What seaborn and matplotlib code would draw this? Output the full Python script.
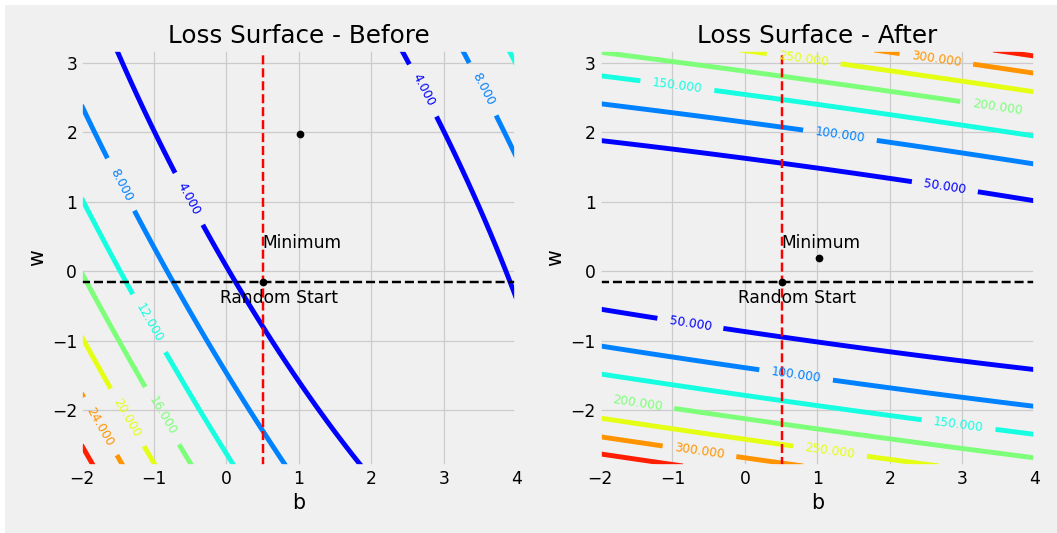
import numpy as np
import matplotlib
matplotlib.use('Agg')
import matplotlib.pyplot as plt
import seaborn as sns
from matplotlib.patches import Rectangle

plt.style.use('fivethirtyeight')

# parameter ranges shown on both panels
b_range = [-2, 4]
w_range = [-2.8, 3.18]

# points
b_start, w_start = 0.51, -0.15
b_min = [1.02, 1.02]        # before / after
w_min = [1.97, 0.197]

# loss surface: MSE of a linear model (centre and feature moments)
b_centre = [1.02, 1.02]
w_centre = [1.97, 0.23]
x_mean = [0.47, 0.4635]
x_sq_mean = [0.31, 0.32]
noise_var = 0.01
feature_scale = [1, 10]     # before / after (feature multiplied by 10)

levels_before = [0, 4, 8, 12, 16, 20, 24, 28, 32]
levels_after = [0, 50, 100, 150, 200, 250, 300, 350, 400]
titles = ['Loss Surface - Before', 'Loss Surface - After']

# where the contour labels sit
label_pos_before = [(-0.50, 1.05), (2.73, 2.61), (-1.45, 1.25), (3.56, 2.63),
                    (-1.04, -0.73), (-0.86, -2.06), (-1.35, -2.09), (-1.76, -2.24)]
label_pos_after = [(0.81, 3.05), (2.64, 3.05), (-0.93, 2.69), (3.48, 2.37),
                   (1.31, 1.95), (2.76, 1.23), (-0.75, -0.73), (0.71, -1.46),
                   (-1.48, -1.87), (2.95, -2.18), (-0.62, -2.54), (1.18, -2.54)]

W, H, DPI = 1057, 533, 88
fig = plt.figure(figsize=(W / DPI, H / DPI), dpi=DPI)
fig.patch.set_facecolor('white')
fig.add_artist(Rectangle((5 / W, 0), 1, 1 - 5 / H, transform=fig.transFigure,
                         facecolor='#f0f0f0', edgecolor='none', zorder=-10))

ax_left = fig.add_axes([0.0771, 0.1257, 0.4115, 0.7805])
ax_right = fig.add_axes([0.5676, 0.1257, 0.4115, 0.7805])
axs = [ax_left, ax_right]

bs, ws = np.meshgrid(np.linspace(b_range[0], b_range[1], 301),
                     np.linspace(w_range[0], w_range[1], 301))

for i, ax in enumerate(axs):
    k = feature_scale[i]
    db = bs - b_centre[i]
    dw = ws - w_centre[i]
    loss = (db ** 2 + 2 * k * x_mean[i] * db * dw
            + k ** 2 * x_sq_mean[i] * dw ** 2 + noise_var)

    levels = levels_before if i == 0 else levels_after
    cs = ax.contour(bs, ws, loss, levels=levels, cmap=plt.cm.jet, linewidths=4)
    ax.clabel(cs, inline=True, inline_spacing=12, fontsize=10, fmt='%1.3f',
              manual=label_pos_before if i == 0 else label_pos_after)

    sns.scatterplot(x=[b_min[i]], y=[w_min[i]], color='k', s=40, linewidth=0, ax=ax, zorder=5)
    sns.scatterplot(x=[b_start], y=[w_start], color='k', s=40, linewidth=0, ax=ax, zorder=5)

    ax.axvline(b_start, color='r', linestyle='--', linewidth=2)
    ax.axhline(w_start, color='k', linestyle='--', linewidth=2)

    ax.text(0.5, 0.34, 'Minimum', fontsize=14)
    ax.text(-0.09, -0.46, 'Random Start', fontsize=14)

    ax.set_xlim(b_range)
    ax.set_ylim(w_range)
    ax.set_xticks([-2, -1, 0, 1, 2, 3, 4])
    ax.set_yticks([-2, -1, 0, 1, 2, 3])
    ax.set_xlabel('b')
    ax.set_ylabel('w')
    ax.set_title(titles[i])

fig.savefig('out.png', dpi=DPI, facecolor='white')
